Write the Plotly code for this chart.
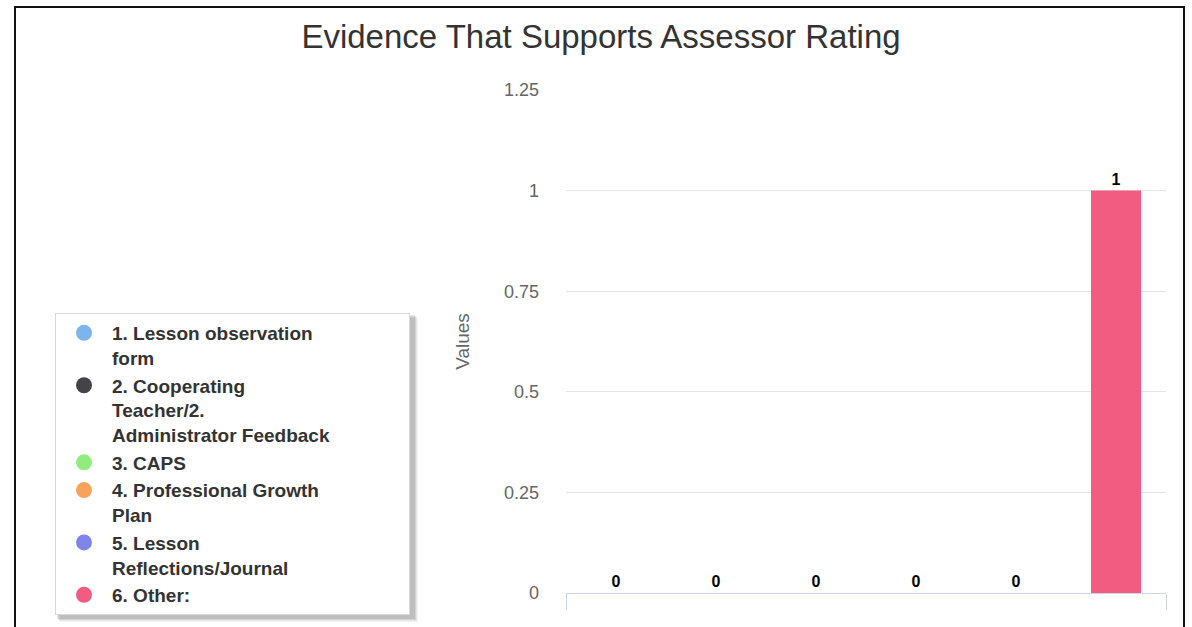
import plotly.graph_objects as go

title = "Evidence That Supports Assessor Rating"
category = ["Evidence"]
series_names = [
    "1. Lesson observation<br>form",
    "2. Cooperating<br>Teacher/2.<br>Administrator Feedback" + "&nbsp;" * 14,
    "3. CAPS",
    "4. Professional Growth<br>Plan",
    "5. Lesson<br>Reflections/Journal",
    "6. Other:",
]
series_values = [0, 0, 0, 0, 0, 1]
colors = ["#7cb5ec", "#434348", "#90ed7d", "#f7a35c", "#8085e9", "#f15c80"]
y_ticks = [0, 0.25, 0.5, 0.75, 1, 1.25]
y_ticktext = ["0", "0.25", "0.5", "0.75", "1", "1.25"]

W, H = 1192, 627
L, R, T, B = 566, 26, 90, 34
pw, ph = W - L - R, H - T - B

def px_x(x):
    return (x - L) / pw

def px_y(y):
    return (H - B - y) / ph

FONT = "Liberation Sans, Arial, sans-serif"

fig = go.Figure()
for name, val, col in zip(series_names, series_values, colors):
    fig.add_trace(go.Bar(
        x=category, y=[val], name=name, marker=dict(color=col, line=dict(width=0)),
        texttemplate="%{y}",
        textposition="outside", cliponaxis=False,
        textfont=dict(family=FONT, size=16, color="#000000", weight="bold"),
        showlegend=False,
    ))
# legend entries with circle symbols (same series)
for name, col in zip(series_names, colors):
    fig.add_trace(go.Scatter(
        x=[None], y=[None], mode="markers", name=name,
        marker=dict(symbol="circle", size=18, color=col),
        showlegend=True,
    ))

# legend box shadow (behind the legend)
shadow = []
for off, alpha in [(5, 0.04), (4, 0.06), (3, 0.08), (2, 0.1)]:
    shadow.append(dict(type="rect", xref="paper", yref="paper",
                       x0=px_x(55 + off), x1=px_x(413 + off),
                       y0=px_y(617 + off), y1=px_y(313 + off),
                       line=dict(width=0), fillcolor=f"rgba(0,0,0,{alpha})", layer="above"))

fig.update_layout(
    width=W, height=H,
    margin=dict(l=L, r=R, t=T, b=B, autoexpand=False),
    paper_bgcolor="white", plot_bgcolor="white",
    barmode="group", bargap=0, bargroupgap=0.5,
    title=dict(text=title, x=601 / W, xanchor="center", y=1 - 36 / H, yanchor="middle",
               font=dict(family=FONT, size=33, color="#333333")),
    font=dict(family=FONT, color="#666666"),
    showlegend=True,
    legend=dict(
        x=px_x(55), y=px_y(313), xanchor="left", yanchor="top",
        bgcolor="white", bordercolor="#d8d8d8", borderwidth=1,
        font=dict(family=FONT, size=19, color="#333333", weight="bold"),
        valign="top", itemwidth=46, tracegroupgap=0,
    ),
    xaxis=dict(
        range=[-0.5, 0.5], showticklabels=False, showgrid=False,
        showline=True, linecolor="#ccd6eb", linewidth=1,
        ticks="outside", tickson="boundaries", ticklen=16, tickcolor="#ccd6eb",
        zeroline=False, fixedrange=True,
    ),
    yaxis=dict(
        range=[0, 1.25], tickvals=y_ticks, ticktext=y_ticktext,
        showgrid=True, gridcolor="#e6e6e6", gridwidth=1, zeroline=False,
        tickfont=dict(family=FONT, size=18, color="#666666"),
        ticklabelstandoff=26,
        title=dict(text="Values", standoff=29, font=dict(family=FONT, size=19, color="#666666")),
        showline=False, fixedrange=True,
    ),
    shapes=shadow + [
        dict(type="rect", xref="paper", yref="paper",
             x0=px_x(15), x1=px_x(1184), y0=px_y(7), y1=px_y(660),
             line=dict(color="#111111", width=2), fillcolor="rgba(0,0,0,0)", layer="above"),
    ],
)

fig.write_html("out.html", config={"displayModeBar": False},
               post_script="document.body.style.margin='0';document.body.style.overflow='hidden';")
